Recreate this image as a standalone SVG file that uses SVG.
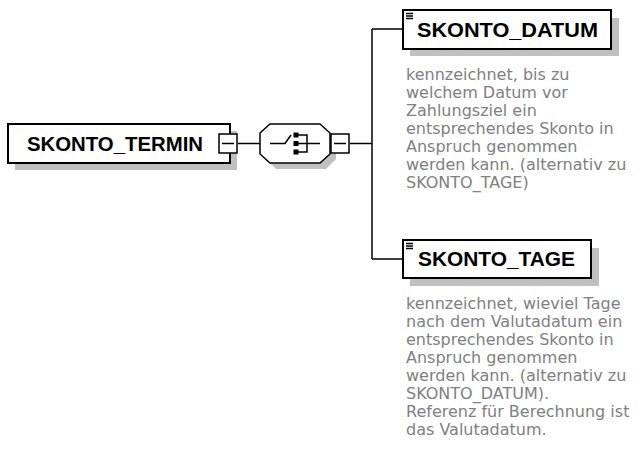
<svg xmlns="http://www.w3.org/2000/svg" width="640" height="465" viewBox="0 0 640 465">
<style>
.shadow{fill:#c0c0c0;stroke:none}
.box{fill:#fff;stroke:#000;stroke-width:2}
.ln{fill:none;stroke:#000;stroke-width:1.5}
.title{font-family:"Liberation Sans",Arial,sans-serif;font-weight:bold;font-size:20px;fill:#000}
.desc{font-family:"DejaVu Sans",Verdana,sans-serif;font-size:16px;fill:#808080}
.icon{fill:none;stroke:#000;stroke-width:1.3}
</style>
<rect width="640" height="465" fill="#fff"/>
<g id="connectors">
<line class="ln" x1="238" y1="143.5" x2="260" y2="143.5"/>
<line class="ln" x1="350" y1="143.5" x2="372" y2="143.5"/>
<line class="ln" x1="372" y1="29" x2="372" y2="259"/>
<line class="ln" x1="372" y1="29" x2="403" y2="29"/>
<line class="ln" x1="372" y1="259" x2="403" y2="259"/>
</g>
<g id="SKONTO_TERMIN">
<rect class="shadow" x="15" y="131" width="222" height="39"/>
<rect class="box" x="8" y="124" width="222" height="39" stroke-width="1.5"/>
<text class="title" x="27" y="151" textLength="176" lengthAdjust="spacingAndGlyphs">SKONTO_TERMIN</text>
<rect x="219" y="134" width="18" height="19" fill="#fff" stroke="#000" stroke-width="1.5"/>
<line class="ln" x1="222" y1="143.5" x2="234" y2="143.5"/>
</g>
<g id="choice">
<polygon class="shadow" points="266,139 276,129 326,129 336,139 336,159 326,169 276,169 266,159"/>
<polygon points="260,133 270,124 320,124 330,133 330,154 320,163 270,163 260,154" fill="#fff" stroke="#000" stroke-width="1.5"/>
<path class="ln" d="M270,143.5 H285 L291,135"/>
<rect x="293.5" y="132.5" width="5" height="5" fill="#000"/>
<rect x="293.5" y="141" width="5" height="5" fill="#000"/>
<rect x="293.5" y="149.5" width="5" height="5" fill="#000"/>
<path class="ln" d="M298,135 H307 V152 H298 M298,143.5 H320"/>
<rect x="331" y="134" width="18" height="19" fill="#fff" stroke="#000" stroke-width="1.5"/>
<line class="ln" x1="334" y1="143.5" x2="346" y2="143.5"/>
</g>
<g id="SKONTO_DATUM">
<rect class="shadow" x="410" y="18" width="209" height="38"/>
<rect class="box" x="403" y="10" width="208" height="39"/>
<path class="icon" d="M406,13.5 H413 M406,16 H413 M406,18.5 H413"/>
<text class="title" x="417" y="37" textLength="181" lengthAdjust="spacingAndGlyphs">SKONTO_DATUM</text>
<text class="desc"><tspan x="406" y="80">kennzeichnet, bis zu</tspan><tspan x="406" y="98">welchem Datum vor</tspan><tspan x="406" y="116">Zahlungsziel ein</tspan><tspan x="406" y="134">entsprechendes Skonto in</tspan><tspan x="406" y="152">Anspruch genommen</tspan><tspan x="406" y="170">werden kann. (alternativ zu</tspan><tspan x="406" y="188">SKONTO_TAGE)</tspan></text>
</g>
<g id="SKONTO_TAGE">
<rect class="shadow" x="410" y="248" width="189" height="38"/>
<rect class="box" x="403" y="240" width="188" height="38"/>
<path class="icon" d="M406,243.5 H413 M406,246 H413 M406,248.5 H413"/>
<text class="title" x="418" y="266" textLength="157" lengthAdjust="spacingAndGlyphs">SKONTO_TAGE</text>
<text class="desc"><tspan x="406" y="309">kennzeichnet, wieviel Tage</tspan><tspan x="406" y="327">nach dem Valutadatum ein</tspan><tspan x="406" y="345">entsprechendes Skonto in</tspan><tspan x="406" y="363">Anspruch genommen</tspan><tspan x="406" y="381">werden kann. (alternativ zu</tspan><tspan x="406" y="399">SKONTO_DATUM).</tspan><tspan x="406" y="417">Referenz für Berechnung ist</tspan><tspan x="406" y="435">das Valutadatum.</tspan></text>
</g>
</svg>
